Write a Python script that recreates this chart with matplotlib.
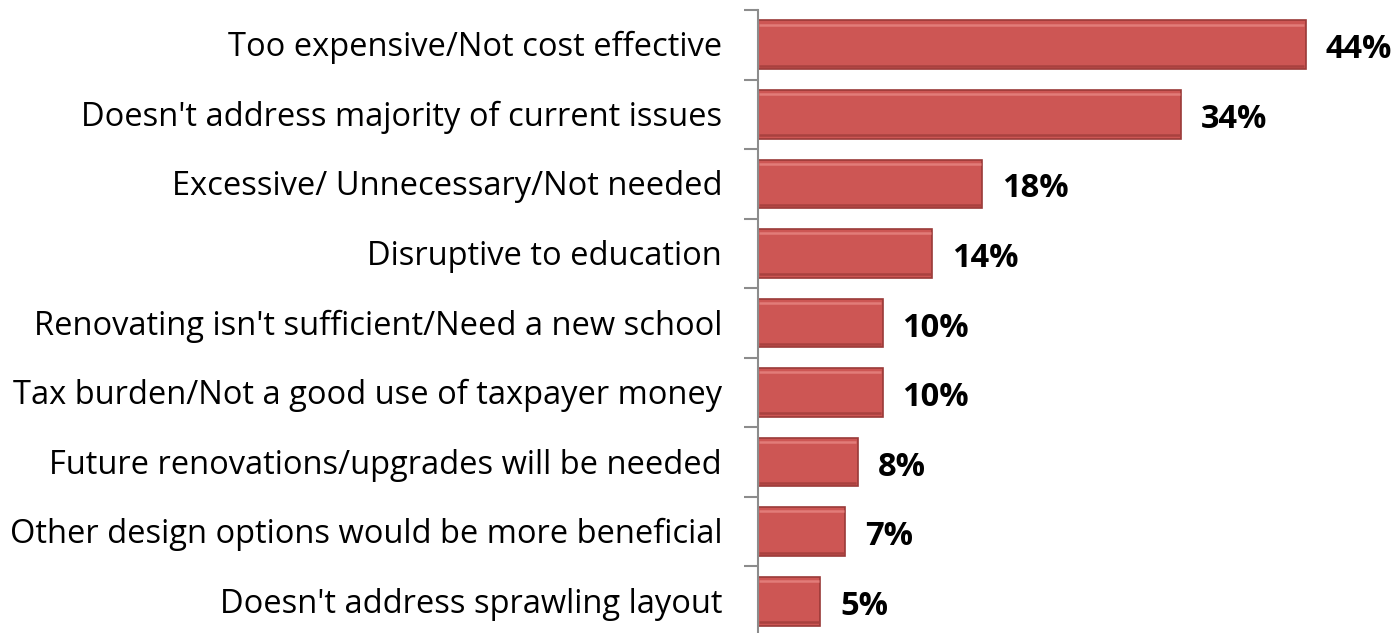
import matplotlib
matplotlib.use("Agg")
import matplotlib.pyplot as plt

categories = [
    "Too expensive/Not cost effective",
    "Doesn't address majority of current issues",
    "Excessive/ Unnecessary/Not needed",
    "Disruptive to education",
    "Renovating isn't sufficient/Need a new school",
    "Tax burden/Not a good use of taxpayer money",
    "Future renovations/upgrades will be needed",
    "Other design options would be more beneficial",
    "Doesn't address sprawling layout",
]
values = [44, 34, 18, 14, 10, 10, 8, 7, 5]

W, H = 1395, 633
fig = plt.figure(figsize=(W / 100, H / 100), dpi=100)
fig.set_facecolor("white")

# axes placed in pixel terms: y axis at x=758, 12.45 px per percentage point
x0, xmax, px_per = 758, 50, 12.45
top, bottom = 10, 636
ax = fig.add_axes([x0 / W, 1 - bottom / H, xmax * px_per / W, (bottom - top) / H])

n = len(categories)
ypos = list(range(n))
bars = ax.barh(ypos, values, height=0.7, color="#CD5654", edgecolor="#9A3A38",
               linewidth=1.2, zorder=2)
# bevel: light strip on top, darker strip on the bottom (y axis is inverted)
for b in bars:
    x_a, x_b = b.get_x() + 0.12, b.get_width() - 0.12
    ax.plot([x_a, x_b], [b.get_y() + 0.06] * 2,
            color="#E27C79", linewidth=1.8, solid_capstyle="butt", zorder=3)
    ax.plot([x_a, x_b], [b.get_y() + b.get_height() - 0.05] * 2,
            color="#A9413F", linewidth=1.8, solid_capstyle="butt", zorder=3)

ax.set_ylim(n - 0.5, -0.5)
ax.set_xlim(0, xmax)

for s in ["top", "right", "bottom"]:
    ax.spines[s].set_visible(False)
ax.spines["left"].set_color("#8C8C8C")
ax.spines["left"].set_linewidth(1.5)

ax.set_xticks([])
ax.set_yticks([i - 0.5 for i in range(n + 1)])
ax.set_yticklabels([])
ax.tick_params(axis="y", length=10, width=1.5, color="#8C8C8C", direction="out")

for i, c in enumerate(categories):
    ax.annotate(c, xy=(0, i), xycoords=("axes fraction", "data"),
                xytext=(-36, -3), textcoords="offset pixels",
                ha="right", va="center", fontsize=23.5, family="Open Sans",
                color="black")

for i, v in enumerate(values):
    ax.annotate(f"{v}%", xy=(v, i), xytext=(20, -5), textcoords="offset pixels",
                ha="left", va="center", fontsize=23.5, fontweight="bold",
                family="Open Sans", color="black")

fig.savefig("out.png", dpi=100, facecolor="white")
